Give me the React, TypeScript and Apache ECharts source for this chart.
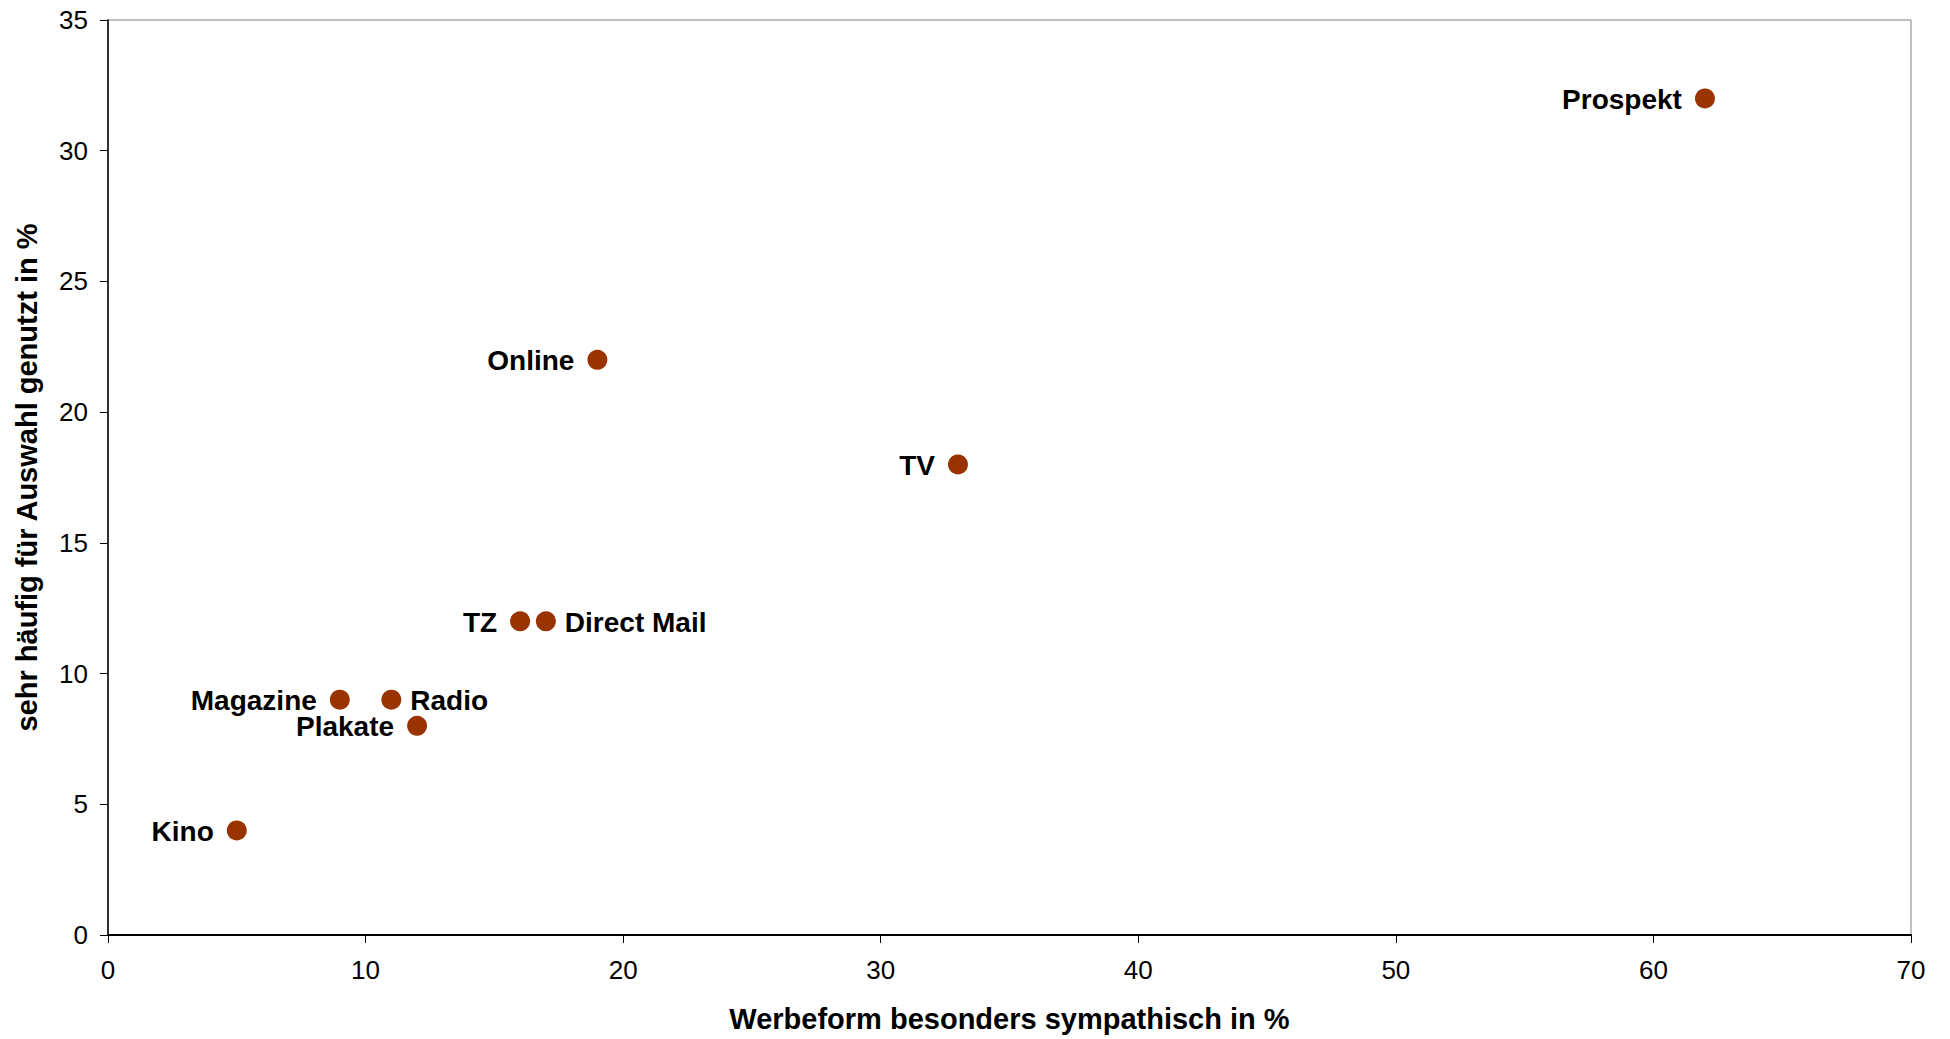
import React, { useEffect, useRef } from "react";
import * as echarts from "echarts";

const names = ["Prospekt", "Online", "TV", "TZ", "Direct Mail", "Magazine", "Radio", "Plakate", "Kino"];
const sympathisch = [62, 19, 33, 16, 17, 9, 11, 12, 5];
const genutzt = [32, 22, 18, 12, 12, 9, 9, 8, 4];
const labelSide = ["left", "left", "left", "left", "right", "left", "right", "left", "left"];

const xTicks = [0, 10, 20, 30, 40, 50, 60, 70];
const yTicks = [0, 5, 10, 15, 20, 25, 30, 35];

const FONT = "'Liberation Sans', Arial, sans-serif";

export default function App() {
  const ref = useRef<HTMLDivElement>(null);
  useEffect(() => {
    if (!ref.current) return;
    const chart = echarts.init(ref.current, null, { renderer: "svg" });
    const data = names.map((n, i) => ({
      name: n,
      value: [sympathisch[i], genutzt[i]],
      label: {
        position: labelSide[i],
        distance: labelSide[i] === "left" ? 13 : 9,
        offset: [0, 1],
      },
    }));
    chart.setOption({
      animation: false,
      backgroundColor: "#ffffff",
      grid: {
        left: 108,
        top: 20,
        right: 39,
        bottom: 104,
        show: true,
        borderColor: "#808080",
        borderWidth: 1,
      },
      xAxis: {
        type: "value",
        min: xTicks[0],
        max: xTicks[xTicks.length - 1],
        interval: 10,
        name: "Werbeform besonders sympathisch in %",
        nameLocation: "middle",
        nameGap: 69,
        nameTextStyle: { fontFamily: FONT, fontWeight: "bold", fontSize: 29, color: "#000" },
        axisLine: { show: true, onZero: false, lineStyle: { color: "#000", width: 2 } },
        axisTick: { show: true, inside: false, length: 8, lineStyle: { color: "#000", width: 1 } },
        axisLabel: { fontFamily: FONT, fontSize: 26, color: "#000", margin: 22 },
        splitLine: { show: false },
      },
      yAxis: {
        type: "value",
        min: yTicks[0],
        max: yTicks[yTicks.length - 1],
        interval: 5,
        name: "sehr häufig für Auswahl genutzt in %",
        nameLocation: "middle",
        nameRotate: 90,
        nameGap: 67,
        nameTextStyle: { fontFamily: FONT, fontWeight: "bold", fontSize: 29, color: "#000" },
        axisLine: { show: true, onZero: false, lineStyle: { color: "#000", width: 1.5 } },
        axisTick: { show: true, inside: false, length: 8, lineStyle: { color: "#000", width: 1 } },
        axisLabel: { fontFamily: FONT, fontSize: 26, color: "#000", margin: 20 },
        splitLine: { show: false },
      },
      series: [
        {
          type: "scatter",
          symbol: "circle",
          symbolSize: 20,
          itemStyle: { color: "#993300", opacity: 1 },
          label: {
            show: true,
            formatter: "{b}",
            fontFamily: FONT,
            fontWeight: "bold",
            fontSize: 28,
            color: "#000",
          },
          data,
        },
      ],
    });
    return () => chart.dispose();
  }, []);
  return (
    <div
      ref={ref}
      style={{ position: "fixed", left: 0, top: 0, width: 1950, height: 1039 }}
    />
  );
}
